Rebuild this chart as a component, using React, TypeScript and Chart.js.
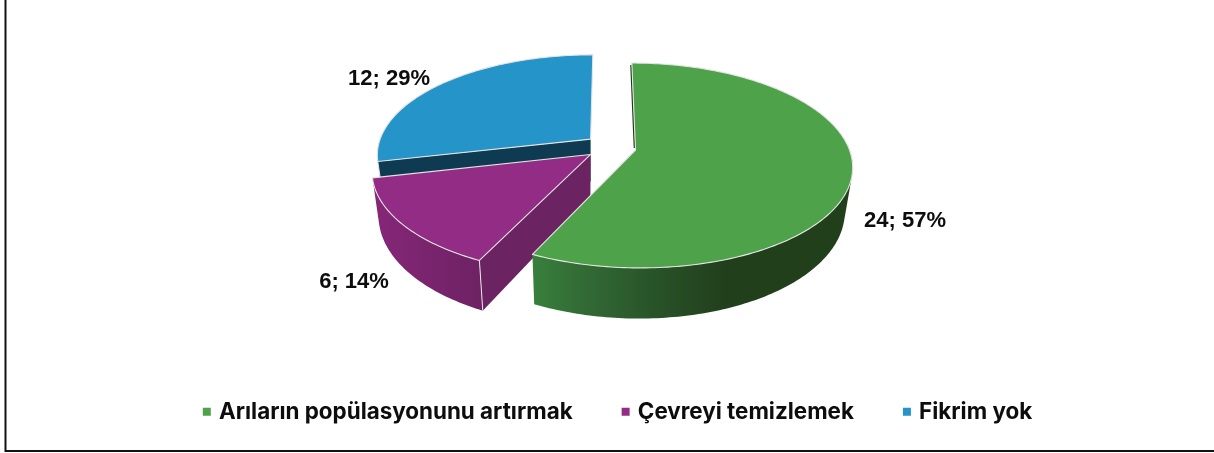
import React, { useEffect, useRef } from "react";
import { Chart, registerables } from "chart.js";

Chart.register(...registerables);

const categories = ["Arıların popülasyonunu artırmak", "Çevreyi temizlemek", "Fikrim yok"];
const values = [24, 6, 12];
const topColors = ["#4EA34A", "#932C85", "#2494C9"];
const radialWallColors = ["#1F3A19", "#6B2361", "#0F3B52"];
const outerWallStops: [number, string][][] = [
  [[0, "#38803C"], [0.12, "#346F37"], [0.36, "#29552A"], [0.6, "#223F1C"], [1, "#223F1C"]],
  [[0, "#862778"], [1, "#6E2264"]],
  [[0, "#0F3B52"], [1, "#0F3B52"]],
];
// Exploded slice apex offsets in the unit pie plane
const explosionU = [0.007, -0.203, -0.204];
const explosionV = [0, -0.045, 0.11];
// Label anchors (centres) on the page
const labelX = [905, 354, 389];
const labelY = [221, 282, 79];

const CX = 634, CY = 150, A = 100.1, B = 214, C = -4, K = 0.151, DEPTH = 43, SHRINK = 0.97, SHRINK_X = 591;
const FONT = "Inter";
const LABEL_FONT = "'Liberation Sans'";

function project(u: number, v: number, low: boolean) {
  const w = 1 + K * v;
  let x = CX + (B * u + C * v) / w;
  let y = CY + (-A * v) / w;
  if (low) {
    x = SHRINK_X + (x - SHRINK_X) * SHRINK;
    y += DEPTH / w;
  }
  return { x, y };
}

const pie3d = {
  id: "pie3d",
  beforeDatasetsDraw(chart: any) {
    const ctx: CanvasRenderingContext2D = chart.ctx;
    const arcs = chart.getDatasetMeta(0).data;
    ctx.save();
    ctx.lineJoin = "round";
    for (let i = arcs.length - 1; i >= 0; i--) {
      const start = arcs[i].startAngle + Math.PI / 2;
      const end = arcs[i].endAngle + Math.PI / 2;
      const eu = explosionU[i], ev = explosionV[i];
      const steps = Math.max(2, Math.ceil(((end - start) * 180) / Math.PI));
      const angleAt = (s: number) => start + ((end - start) * s) / steps;
      const at = (s: number, low: boolean) => {
        const t = angleAt(s);
        return project(eu + Math.sin(t), ev + Math.cos(t), low);
      };
      const apexTop = project(eu, ev, false);
      const apexLow = project(eu, ev, true);

      // radial wall on the slice's start edge, when it faces the viewer
      if (Math.cos(start - Math.PI / 2) < -0.01) {
        const a = at(0, false), b = at(0, true);
        ctx.beginPath();
        ctx.moveTo(a.x, a.y);
        ctx.lineTo(apexTop.x, apexTop.y);
        ctx.lineTo(apexLow.x, apexLow.y);
        ctx.lineTo(b.x, b.y);
        ctx.closePath();
        ctx.fillStyle = radialWallColors[i];
        ctx.fill();
      }

      // outer wall: only the part that faces the viewer, one fill so no seams appear
      let minX = Infinity, maxX = -Infinity;
      for (let s = 0; s <= steps; s++) {
        const p = at(s, false);
        minX = Math.min(minX, p.x);
        maxX = Math.max(maxX, p.x);
      }
      const grad = ctx.createLinearGradient(minX, 0, maxX, 0);
      outerWallStops[i].forEach(([o, c]) => grad.addColorStop(o, c));
      ctx.beginPath();
      for (let s = 0; s < steps; s++) {
        if (Math.cos(angleAt(s)) > 0.02 && Math.cos(angleAt(s + 1)) > 0.02) continue;
        const q = [at(s, false), at(s + 1, false), at(s + 1, true), at(s, true)];
        let area = 0;
        q.forEach((p, n) => {
          const r = q[(n + 1) % 4];
          area += p.x * r.y - r.x * p.y;
        });
        if (area < 0) q.reverse();
        ctx.moveTo(q[0].x, q[0].y);
        for (let n = 1; n < 4; n++) ctx.lineTo(q[n].x, q[n].y);
        ctx.closePath();
      }
      ctx.fillStyle = grad;
      ctx.fill();

      // lit vertical corner edge where the walls meet
      if (Math.cos(start - Math.PI / 2) < -0.01) {
        const a = at(0, false), b = at(0, true);
        ctx.beginPath();
        ctx.moveTo(a.x, a.y);
        ctx.lineTo(b.x, b.y);
        ctx.strokeStyle = "#E8E8E8";
        ctx.lineWidth = 1;
        ctx.stroke();
      }

      // thin dark sliver for a wall seen almost edge-on (the first slice's start edge)
      if (Math.abs(Math.cos(start - Math.PI / 2)) <= 0.01) {
        const a = at(0, false);
        ctx.beginPath();
        ctx.moveTo(a.x - 0.8, a.y + 2);
        ctx.lineTo(apexTop.x - 1, apexTop.y - 2);
        ctx.strokeStyle = radialWallColors[i];
        ctx.lineWidth = 1.6;
        ctx.stroke();
      }

      // top face
      ctx.beginPath();
      ctx.moveTo(apexTop.x, apexTop.y);
      for (let s = 0; s <= steps; s++) {
        const p = at(s, false);
        ctx.lineTo(p.x, p.y);
      }
      ctx.closePath();
      ctx.fillStyle = topColors[i];
      ctx.fill();
      ctx.strokeStyle = "#E4E4E4";
      ctx.lineWidth = 1.1;
      ctx.stroke();
    }
    ctx.restore();
    return false;
  },
  afterDraw(chart: any) {
    const ctx: CanvasRenderingContext2D = chart.ctx;
    ctx.save();
    // chart-frame lines
    ctx.strokeStyle = "#111111";
    ctx.lineWidth = 2;
    ctx.beginPath();
    ctx.moveTo(5.5, 0);
    ctx.lineTo(5.5, 451);
    ctx.lineTo(1214, 451);
    ctx.stroke();
    // data labels
    const total = values.reduce((a, b) => a + b, 0);
    ctx.font = `700 22px ${LABEL_FONT}`;
    ctx.fillStyle = "#0D0D0D";
    ctx.textAlign = "center";
    ctx.textBaseline = "middle";
    values.forEach((v, i) => {
      ctx.fillText(`${v}; ${Math.round((v / total) * 100)}%`, labelX[i], labelY[i]);
    });
    ctx.restore();
  },
};

export default function App() {
  const ref = useRef<HTMLCanvasElement>(null);
  useEffect(() => {
    document.body.style.margin = "0";
    const chart = new Chart(ref.current!, {
      type: "pie",
      data: {
        labels: categories,
        datasets: [{ data: values, backgroundColor: topColors, borderWidth: 0 }],
      },
      options: {
        responsive: false,
        animation: false,
        layout: { padding: { bottom: 20, left: 24 } },
        plugins: {
          tooltip: { enabled: false },
          legend: {
            position: "bottom",
            labels: {
              usePointStyle: true,
              pointStyle: "rect",
              boxWidth: 2,
              boxHeight: 8,
              padding: 52,
              color: "#0D0D0D",
              font: { family: FONT, size: 22.4, weight: "bold" },
            },
          },
        },
      },
      plugins: [pie3d],
    });
    return () => chart.destroy();
  }, []);
  return <canvas ref={ref} width={1214} height={453} style={{ display: "block" }} />;
}
